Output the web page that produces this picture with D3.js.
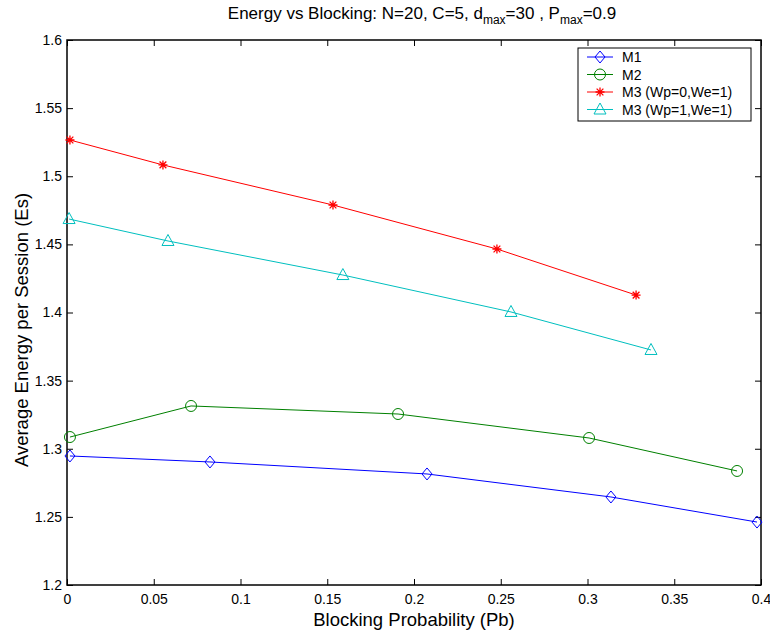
<!DOCTYPE html>
<html><head><meta charset="utf-8">
<script src="https://cdn.jsdelivr.net/npm/d3@7"></script>
<style>body{margin:0;background:#fff}text{font-family:"Liberation Sans",Arial,sans-serif}</style>
</head><body><svg id="c" width="770" height="634"></svg>
<script>
const m1x=[0.0017,0.0824,0.2075,0.3135,0.3977];
const m1y=[1.2947,1.2903,1.2815,1.2646,1.2462];
const m2x=[0.0017,0.0715,0.1908,0.3009,0.3862];
const m2y=[1.3086,1.3314,1.3255,1.3079,1.2837];
const m3ax=[0.0017,0.0553,0.1533,0.2478,0.3280];
const m3ay=[1.5266,1.5083,1.4789,1.4466,1.4128];
const m3bx=[0.0012,0.0582,0.1590,0.2559,0.3366];
const m3by=[1.4686,1.4525,1.4275,1.4004,1.3725];
const xTicks=[0,0.05,0.1,0.15,0.2,0.25,0.3,0.35,0.4];
const yTicks=[1.2,1.25,1.3,1.35,1.4,1.45,1.5,1.55,1.6];
const seriesNames=["M1","M2","M3 (Wp=0,We=1)","M3 (Wp=1,We=1)"];
const colors=["#0000ff","#008000","#ff0000","#00bfbf"];
const markers=["diamond","circle","star","triangle"];

const svg=d3.select("#c");
const L=67,R=761,T=40,B=585;
const x=d3.scaleLinear().domain([0,0.4]).range([L,R]);
const y=d3.scaleLinear().domain([1.2,1.6]).range([B,T]);
const series=[[m1x,m1y],[m2x,m2y],[m3ax,m3ay],[m3bx,m3by]];

function marker(g,type,color){
  if(type==="diamond"){g.append("path").attr("d","M0,-6L5,0L0,6L-5,0Z").attr("fill","none").attr("stroke",color).attr("stroke-width",1);}
  else if(type==="circle"){g.append("circle").attr("r",5.5).attr("fill","none").attr("stroke",color).attr("stroke-width",1);}
  else if(type==="triangle"){g.append("path").attr("d","M0,-6.5L6,4.5L-6,4.5Z").attr("fill","none").attr("stroke",color).attr("stroke-width",1);}
  else if(type==="star"){
    const s=4.5;
    g.append("path").attr("d",`M${-s},0L${s},0M0,${-s}L0,${s}M${-s*0.75},${-s*0.75}L${s*0.75},${s*0.75}M${-s*0.75},${s*0.75}L${s*0.75},${-s*0.75}`).attr("stroke",color).attr("stroke-width",1.3);
  }
}

const ax=svg.append("g");
ax.append("g").attr("transform",`translate(0,${B})`).call(d3.axisBottom(x).tickValues(xTicks).tickSizeInner(-6).tickSizeOuter(0).tickPadding(9).tickFormat(d=>d===0?"0":String(d)));
ax.append("g").attr("transform",`translate(0,${T})`).call(d3.axisTop(x).tickValues(xTicks).tickSizeInner(-6).tickSizeOuter(0).tickFormat(""));
ax.append("g").attr("transform",`translate(${L},0)`).call(d3.axisLeft(y).tickValues(yTicks).tickSizeInner(-6).tickSizeOuter(0).tickPadding(5).tickFormat(d=>String(+d.toFixed(2))));
ax.append("g").attr("transform",`translate(${R},0)`).call(d3.axisRight(y).tickValues(yTicks).tickSizeInner(-6).tickSizeOuter(0).tickFormat(""));
ax.selectAll(".domain").remove();
ax.selectAll(".tick line").attr("stroke","#000").attr("stroke-width",1);
ax.selectAll(".tick text").attr("font-size",14).attr("fill","#000").attr("font-family","'Liberation Sans',Arial,sans-serif");
svg.append("rect").attr("x",L).attr("y",T).attr("width",R-L).attr("height",B-T).attr("fill","none").attr("stroke","#000").attr("stroke-width",1.5);

const line=d3.line().x(d=>x(d[0])).y(d=>y(d[1]));
series.forEach((s,i)=>{
  const pts=s[0].map((v,j)=>[v,s[1][j]]);
  svg.append("path").datum(pts).attr("d",line).attr("fill","none").attr("stroke",colors[i]).attr("stroke-width",1);
  pts.forEach(p=>{const g=svg.append("g").attr("transform",`translate(${x(p[0])},${y(p[1])})`);marker(g,markers[i],colors[i]);});
});

const lg=svg.append("g");
lg.append("rect").attr("x",578).attr("y",48).attr("width",173).attr("height",73).attr("fill","#fff").attr("stroke","#000").attr("stroke-width",1);
seriesNames.forEach((n,i)=>{
  const yy=57+i*17.5;
  lg.append("line").attr("x1",587).attr("x2",613).attr("y1",yy).attr("y2",yy).attr("stroke",colors[i]).attr("stroke-width",1);
  marker(lg.append("g").attr("transform",`translate(600,${yy})`),markers[i],colors[i]);
  lg.append("text").attr("x",622).attr("y",yy+5).attr("font-size",14).text(n);
});

const t=svg.append("text").attr("x",422).attr("y",19).attr("text-anchor","middle").attr("font-size",17);
t.append("tspan").text("Energy vs Blocking: N=20, C=5, d");
t.append("tspan").attr("font-size",12).attr("dy",5).text("max");
t.append("tspan").attr("dy",-5).text("=30 , P");
t.append("tspan").attr("font-size",12).attr("dy",5).text("max");
t.append("tspan").attr("dy",-5).text("=0.9");

svg.append("text").attr("x",414).attr("y",626).attr("text-anchor","middle").attr("font-size",18.5).text("Blocking Probability (Pb)");
svg.append("text").attr("transform","translate(28,330) rotate(-90)").attr("text-anchor","middle").attr("font-size",18.5).text("Average Energy per Session (Es)");
</script></body></html>
